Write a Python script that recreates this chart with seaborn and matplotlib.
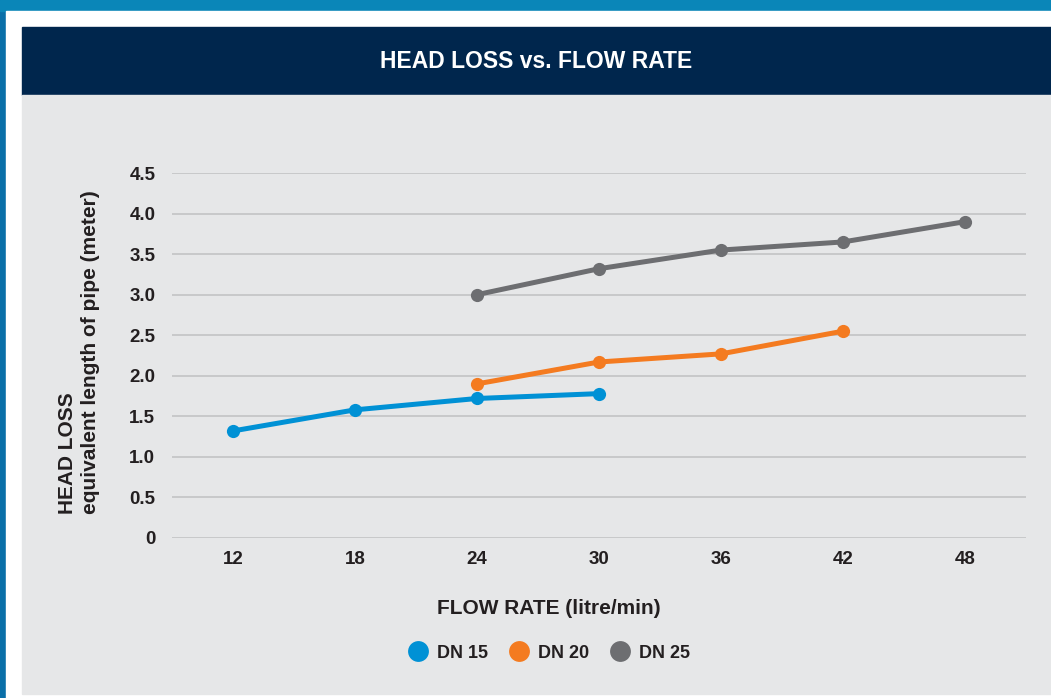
import matplotlib.pyplot as plt
import matplotlib.patches as mpatches
from matplotlib.lines import Line2D
import numpy as np
import seaborn as sns
import pandas as pd

# values
flow_dn15 = [12, 18, 24, 30]
loss_dn15 = [1.32, 1.58, 1.72, 1.78]
flow_dn20 = [24, 30, 36, 42]
loss_dn20 = [1.90, 2.17, 2.27, 2.55]
flow_dn25 = [24, 30, 36, 42, 48]
loss_dn25 = [3.00, 3.32, 3.55, 3.65, 3.90]
series = ['DN 15', 'DN 20', 'DN 25']
colors = ['#0091d5', '#f47b20', '#6d6e71']
x_ticks = [12, 18, 24, 30, 36, 42, 48]
y_ticks = [0, 0.5, 1.0, 1.5, 2.0, 2.5, 3.0, 3.5, 4.0, 4.5]
y_tick_labels = ['0', '0.5', '1.0', '1.5', '2.0', '2.5', '3.0', '3.5', '4.0', '4.5']

rows = []
for name, xs, ys in zip(series, [flow_dn15, flow_dn20, flow_dn25], [loss_dn15, loss_dn20, loss_dn25]):
    for x, y in zip(xs, ys):
        rows.append([x, y, name])
df = pd.DataFrame(rows, columns=['flow', 'loss', 'size'])

sns.set_style("white")
plt.rcParams['font.family'] = ['Liberation Sans', 'DejaVu Sans']
plt.rcParams['font.weight'] = 'bold'

W, H = 1051, 698
fig = plt.figure(figsize=(W / 100, H / 100), dpi=100)
fig.patch.set_facecolor('#0a6fa8')

def rect(x0, y0, x1, y1, color):
    # pixel box, y measured from the top
    fig.patches.append(mpatches.Rectangle((x0 / W, 1 - y1 / H), (x1 - x0) / W, (y1 - y0) / H,
                                          transform=fig.transFigure, color=color, zorder=-5))

# blue backdrop strips, white frame, navy header, grey panel
rect(0, 0, W, 11, '#0a86b8')
rect(6, 11, W, H, '#ffffff')
rect(22, 27, W, 95, '#00264d')
rect(22, 95, W, 694, '#e6e7e8')

fig.text(536 / W, 1 - 61 / H, 'HEAD LOSS vs. FLOW RATE', color='white', fontsize=16.5,
         fontweight='bold', ha='center', va='center')

ax = fig.add_axes([172 / W, 1 - 538 / H, (1026 - 172) / W, (538 - 173) / H])
ax.set_facecolor('none')
sns.lineplot(data=df, x='flow', y='loss', hue='size', palette=colors, marker='o',
             markersize=9.5, markeredgewidth=0, linewidth=3.6, legend=False, ax=ax, zorder=3)
ax.set_xlim(9, 51)
ax.set_ylim(0, 4.5)
ax.set_xticks(x_ticks)
ax.set_xticklabels([str(v) for v in x_ticks])
ax.set_yticks(y_ticks)
ax.set_yticklabels(y_tick_labels)
ax.yaxis.grid(True, color='#c2c3c5', linewidth=1.2)
ax.set_axisbelow(True)
for s in ax.spines.values():
    s.set_visible(False)
ax.tick_params(axis='both', length=0, labelsize=13.5, colors='#231f20')
ax.tick_params(axis='x', pad=9)
ax.tick_params(axis='y', pad=12)
for lab in ax.get_xticklabels() + ax.get_yticklabels():
    lab.set_fontweight('bold')
ax.set_xlabel('')
ax.set_ylabel('')

fig.text(549 / W, 1 - 608 / H, 'FLOW RATE (litre/min)', fontsize=15, fontweight='bold',
         color='#231f20', ha='center', va='center')
fig.text(79 / W, 1 - 514 / H, 'HEAD LOSS\nequivalent length of pipe (meter)', rotation=90,
         fontsize=15, fontweight='bold', color='#231f20', ha='center', va='bottom',
         multialignment='left', linespacing=1.3)

handles = [Line2D([], [], linestyle='none', marker='o', markersize=15, markeredgewidth=0,
                  color=c, label=n) for n, c in zip(series, colors)]
leg = fig.legend(handles=handles, loc='center', bbox_to_anchor=(545 / W, 1 - 653 / H), ncol=3,
                 frameon=False, handletextpad=0.05, columnspacing=0.7,
                 prop={'weight': 'bold', 'size': 13})
for t in leg.get_texts():
    t.set_color('#231f20')

fig.savefig('out.png', dpi=100, facecolor=fig.get_facecolor())
